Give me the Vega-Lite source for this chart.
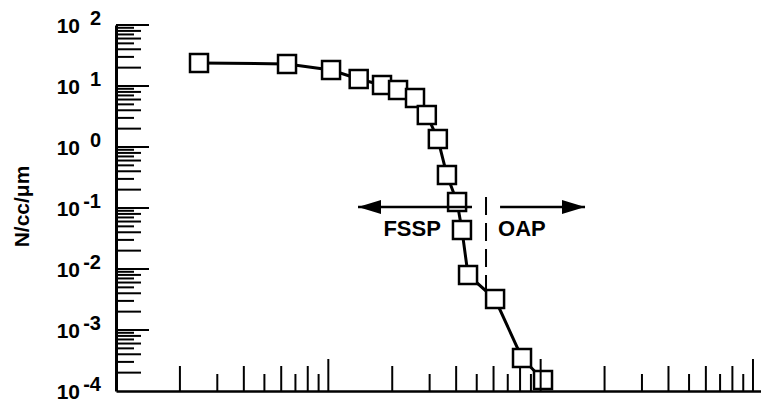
{
  "$schema": "https://vega.github.io/schema/vega-lite/v6.json",
  "width": 645,
  "height": 366,
  "autosize": {"type": "none"},
  "padding": {"left": 116, "top": 25, "right": 0, "bottom": 11},
  "background": "white",
  "config": {
    "view": {"stroke": null},
    "font": "Liberation Sans",
    "text": {"font": "Liberation Sans", "color": "black", "fontWeight": "bold"}
  },
  "datasets": {
    "spectrum": [
      {"d": 2.46, "n": 23.8},
      {"d": 6.39, "n": 23.0},
      {"d": 10.3, "n": 18.3},
      {"d": 13.9, "n": 13.0},
      {"d": 17.9, "n": 10.4},
      {"d": 21.3, "n": 8.6},
      {"d": 25.6, "n": 6.36},
      {"d": 29.1, "n": 3.35},
      {"d": 32.8, "n": 1.35},
      {"d": 36.2, "n": 0.347},
      {"d": 40.4, "n": 0.125},
      {"d": 42.6, "n": 0.0436},
      {"d": 45.5, "n": 0.00798},
      {"d": 61.0, "n": 0.00322},
      {"d": 81.7, "n": 0.000348},
      {"d": 102.6, "n": 0.000151}
    ],
    "yticks": [
      {"v": 0.001, "kind": "decade"}, {"v": 0.01, "kind": "decade"}, {"v": 0.1, "kind": "decade"},
      {"v": 1, "kind": "decade"}, {"v": 10, "kind": "decade"}, {"v": 100, "kind": "decade"},
      {"v": 0.0002, "kind": "even"}, {"v": 0.0003, "kind": "odd"}, {"v": 0.0004, "kind": "even"}, {"v": 0.0005, "kind": "odd"},
      {"v": 0.0006, "kind": "even"}, {"v": 0.0007, "kind": "odd"}, {"v": 0.0008, "kind": "even"}, {"v": 0.0009, "kind": "odd"},
      {"v": 0.002, "kind": "even"}, {"v": 0.003, "kind": "odd"}, {"v": 0.004, "kind": "even"}, {"v": 0.005, "kind": "odd"},
      {"v": 0.006, "kind": "even"}, {"v": 0.007, "kind": "odd"}, {"v": 0.008, "kind": "even"}, {"v": 0.009, "kind": "odd"},
      {"v": 0.02, "kind": "even"}, {"v": 0.03, "kind": "odd"}, {"v": 0.04, "kind": "even"}, {"v": 0.05, "kind": "odd"},
      {"v": 0.06, "kind": "even"}, {"v": 0.07, "kind": "odd"}, {"v": 0.08, "kind": "even"}, {"v": 0.09, "kind": "odd"},
      {"v": 0.2, "kind": "even"}, {"v": 0.3, "kind": "odd"}, {"v": 0.4, "kind": "even"}, {"v": 0.5, "kind": "odd"},
      {"v": 0.6, "kind": "even"}, {"v": 0.7, "kind": "odd"}, {"v": 0.8, "kind": "even"}, {"v": 0.9, "kind": "odd"},
      {"v": 2, "kind": "even"}, {"v": 3, "kind": "odd"}, {"v": 4, "kind": "even"}, {"v": 5, "kind": "odd"},
      {"v": 6, "kind": "even"}, {"v": 7, "kind": "odd"}, {"v": 8, "kind": "even"}, {"v": 9, "kind": "odd"},
      {"v": 20, "kind": "even"}, {"v": 30, "kind": "odd"}, {"v": 40, "kind": "even"}, {"v": 50, "kind": "odd"},
      {"v": 60, "kind": "even"}, {"v": 70, "kind": "odd"}, {"v": 80, "kind": "even"}, {"v": 90, "kind": "odd"}
    ],
    "xticks": [
      {"v": 10, "kind": "decade"}, {"v": 100, "kind": "decade"}, {"v": 1000, "kind": "decade"},
      {"v": 2, "kind": "even"}, {"v": 3, "kind": "odd"}, {"v": 4, "kind": "even"}, {"v": 5, "kind": "odd"},
      {"v": 6, "kind": "even"}, {"v": 7, "kind": "odd"}, {"v": 8, "kind": "even"}, {"v": 9, "kind": "odd"},
      {"v": 20, "kind": "even"}, {"v": 30, "kind": "odd"}, {"v": 40, "kind": "even"}, {"v": 50, "kind": "odd"},
      {"v": 60, "kind": "even"}, {"v": 70, "kind": "odd"}, {"v": 80, "kind": "even"}, {"v": 90, "kind": "odd"},
      {"v": 200, "kind": "even"}, {"v": 300, "kind": "odd"}, {"v": 400, "kind": "even"}, {"v": 500, "kind": "odd"},
      {"v": 600, "kind": "even"}, {"v": 700, "kind": "odd"}, {"v": 800, "kind": "even"}, {"v": 900, "kind": "odd"}
    ],
    "ylabels": [
      {"v": 100, "exp": "2"}, {"v": 10, "exp": "1"}, {"v": 1, "exp": "0"},
      {"v": 0.1, "exp": "-1"}, {"v": 0.01, "exp": "-2"}, {"v": 0.001, "exp": "-3"}, {"v": 0.0001, "exp": "-4"}
    ],
    "shafts": [
      {"x": 13.8, "x2": 47.5, "y": 0.1039},
      {"x": 64.4, "x2": 161.8, "y": 0.1039}
    ],
    "heads": [
      {"x": 13.8, "y": 0.1039, "dir": "left"},
      {"x": 161.8, "y": 0.1039, "dir": "right"}
    ],
    "boundary": [
      {"x": 55.3, "y": 0.1515, "y2": 0.00404}
    ],
    "notes": [
      {"x": 33.9, "y": 0.0347, "text": "FSSP", "side": "left"},
      {"x": 63.0, "y": 0.0347, "text": "OAP", "side": "right"}
    ]
  },
  "encoding": {
    "x": {
      "type": "quantitative",
      "scale": {"type": "log", "domain": [1, 1091], "nice": false},
      "axis": {"orient": "bottom", "ticks": false, "labels": false, "grid": false, "title": null, "domainColor": "black", "domainWidth": 2.5}
    },
    "y": {
      "type": "quantitative",
      "scale": {"type": "log", "domain": [0.0001, 100], "nice": false},
      "axis": {
        "orient": "left", "ticks": false, "labels": false, "grid": false,
        "domainColor": "black", "domainWidth": 3,
        "title": "N/cc/μm", "titleFont": "Liberation Sans", "titleFontSize": 21, "titleFontWeight": "bold",
        "titleColor": "black", "titleX": -84, "titleY": 181, "titleAngle": -90, "titleAlign": "center", "titleBaseline": "bottom"
      }
    }
  },
  "layer": [
    {
      "data": {"name": "spectrum"},
      "mark": {"type": "line", "color": "black", "strokeWidth": 3},
      "encoding": {"x": {"field": "d"}, "y": {"field": "n"}}
    },
    {
      "data": {"name": "spectrum"},
      "mark": {"type": "point", "shape": "square", "size": 324, "filled": true, "fill": "white", "stroke": "black", "strokeWidth": 2.5, "opacity": 1},
      "encoding": {"x": {"field": "d"}, "y": {"field": "n"}}
    },
    {
      "data": {"name": "yticks"},
      "transform": [{"filter": "datum.kind === 'decade'"}],
      "mark": {"type": "rule", "color": "black", "strokeWidth": 2, "x2Offset": 33},
      "encoding": {"x": {"datum": 1}, "x2": {"datum": 1}, "y": {"field": "v"}}
    },
    {
      "data": {"name": "yticks"},
      "transform": [{"filter": "datum.kind === 'even'"}],
      "mark": {"type": "rule", "color": "black", "strokeWidth": 2, "x2Offset": 25},
      "encoding": {"x": {"datum": 1}, "x2": {"datum": 1}, "y": {"field": "v"}}
    },
    {
      "data": {"name": "yticks"},
      "transform": [{"filter": "datum.kind === 'odd'"}],
      "mark": {"type": "rule", "color": "black", "strokeWidth": 2, "x2Offset": 18},
      "encoding": {"x": {"datum": 1}, "x2": {"datum": 1}, "y": {"field": "v"}}
    },
    {
      "data": {"name": "xticks"},
      "transform": [{"filter": "datum.kind === 'decade'"}],
      "mark": {"type": "rule", "color": "black", "strokeWidth": 2, "y2Offset": -32},
      "encoding": {"x": {"field": "v"}, "y": {"datum": 0.0001}, "y2": {"datum": 0.0001}}
    },
    {
      "data": {"name": "xticks"},
      "transform": [{"filter": "datum.kind === 'even'"}],
      "mark": {"type": "rule", "color": "black", "strokeWidth": 2, "y2Offset": -25},
      "encoding": {"x": {"field": "v"}, "y": {"datum": 0.0001}, "y2": {"datum": 0.0001}}
    },
    {
      "data": {"name": "xticks"},
      "transform": [{"filter": "datum.kind === 'odd'"}],
      "mark": {"type": "rule", "color": "black", "strokeWidth": 2, "y2Offset": -17},
      "encoding": {"x": {"field": "v"}, "y": {"datum": 0.0001}, "y2": {"datum": 0.0001}}
    },
    {
      "data": {"name": "ylabels"},
      "mark": {"type": "text", "text": "10", "align": "right", "baseline": "alphabetic", "dx": -36, "dy": 8, "fontSize": 21},
      "encoding": {"x": {"datum": 1}, "y": {"field": "v"}}
    },
    {
      "data": {"name": "ylabels"},
      "mark": {"type": "text", "align": "right", "baseline": "alphabetic", "dx": -15, "dy": 0, "fontSize": 20},
      "encoding": {"x": {"datum": 1}, "y": {"field": "v"}, "text": {"field": "exp"}}
    },
    {
      "data": {"name": "shafts"},
      "mark": {"type": "rule", "color": "black", "strokeWidth": 2.5},
      "encoding": {"x": {"field": "x"}, "x2": {"field": "x2"}, "y": {"field": "y"}}
    },
    {
      "data": {"name": "heads"},
      "mark": {"type": "point", "filled": true, "color": "black", "size": 529, "opacity": 1, "strokeWidth": 0},
      "encoding": {
        "x": {"field": "x"},
        "y": {"field": "y"},
        "shape": {
          "field": "dir", "type": "nominal",
          "scale": {"domain": ["left", "right"], "range": ["M0,0L2,-0.6L2,0.6Z", "M0,0L-2,-0.6L-2,0.6Z"]},
          "legend": null
        }
      }
    },
    {
      "data": {"name": "boundary"},
      "mark": {"type": "rule", "color": "black", "strokeWidth": 2, "strokeDash": [18, 8]},
      "encoding": {"x": {"field": "x"}, "y": {"field": "y"}, "y2": {"field": "y2"}}
    },
    {
      "data": {"name": "notes"},
      "transform": [{"filter": "datum.side === 'left'"}],
      "mark": {"type": "text", "align": "right", "baseline": "alphabetic", "fontSize": 22},
      "encoding": {"x": {"field": "x"}, "y": {"field": "y"}, "text": {"field": "text"}}
    },
    {
      "data": {"name": "notes"},
      "transform": [{"filter": "datum.side === 'right'"}],
      "mark": {"type": "text", "align": "left", "baseline": "alphabetic", "fontSize": 22},
      "encoding": {"x": {"field": "x"}, "y": {"field": "y"}, "text": {"field": "text"}}
    }
  ]
}
